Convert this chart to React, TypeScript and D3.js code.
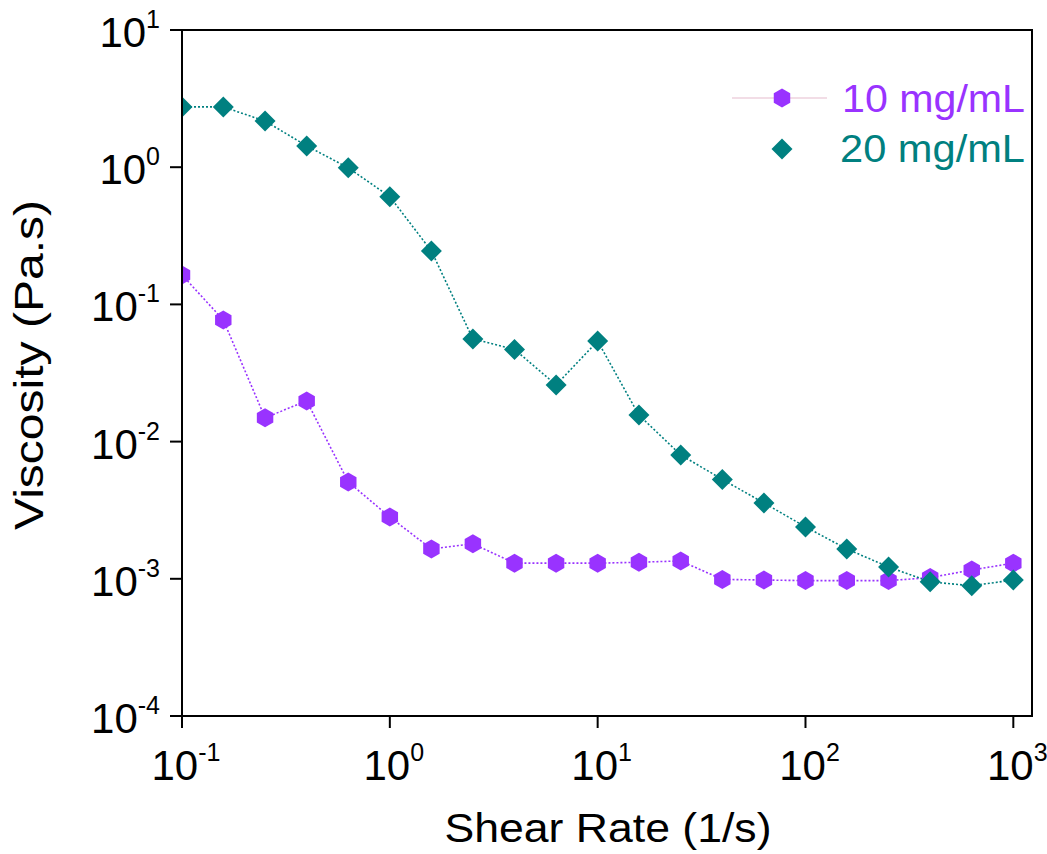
import * as d3 from 'd3';
import React from 'react';

// shear rate points (1/s), 5 per decade
const shearRate = [
  0.1, 0.158, 0.251, 0.398, 0.631, 1, 1.585, 2.51, 3.98, 6.31, 10, 15.8, 25.1, 39.8, 63.1, 100, 158, 251, 398, 631, 1000
];
const visc10 = [
  0.164, 0.077, 0.0149, 0.0198, 0.00508, 0.00282, 0.00165, 0.0018, 0.0013, 0.0013, 0.0013, 0.00132, 0.00135, 0.00099,
  0.00098, 0.00097, 0.00097, 0.00097, 0.00102, 0.00116, 0.0013
];
const visc20 = [
  2.75, 2.75, 2.17, 1.43, 0.99, 0.61, 0.245, 0.056, 0.047, 0.0259, 0.054, 0.0156, 0.008, 0.0053, 0.00357, 0.00239,
  0.00165, 0.00122, 0.00095, 0.00089, 0.00098
];
const xTicks = [-1, 0, 1, 2, 3];
const yTicks = [-4, -3, -2, -1, 0, 1];
const seriesLabels = ['10 mg/mL', '20 mg/mL'];

const PURPLE = '#9933ff';
const TEAL = '#008080';
const FONT = '"Liberation Sans", Arial, sans-serif';

export default function App() {
  const left = 182, right = 1032, top = 30, bottom = 716;
  const x = d3.scaleLog().domain([0.1, 1230]).range([left, right]);
  const y = d3.scaleLog().domain([1e-4, 10]).range([bottom, top]);

  const line = d3
    .line<number>()
    .x((_, i) => x(shearRate[i]))
    .y((d) => y(d));

  const hexagon = (r: number) =>
    d3.range(6).map((i) => {
      const a = (Math.PI / 3) * i - Math.PI / 2;
      return [r * Math.cos(a), r * Math.sin(a)].join(',');
    }).join(' ');
  const diamond = (r: number) => `0,${-r} ${r},0 0,${r} ${-r},0`;

  return (
    <svg
      width={1047}
      height={854}
      style={{ position: 'absolute', left: 0, top: 0, background: '#fff' }}
      fontFamily={FONT}
    >
      <defs>
        <clipPath id="plot">
          <rect x={left} y={top} width={right - left} height={bottom - top} />
        </clipPath>
      </defs>

      {/* y axis ticks & labels */}
      {yTicks.map((p) => (
        <g key={'y' + p}>
          <line x1={left - 12} x2={left} y1={y(Math.pow(10, p))} y2={y(Math.pow(10, p))} stroke="#000" strokeWidth={2} />
          <text x={160} y={y(Math.pow(10, p)) + 17} textAnchor="end" fontSize={42} fill="#000">
            10<tspan dy={-19} fontSize={25}>{p}</tspan>
          </text>
        </g>
      ))}

      {/* x axis ticks & labels */}
      {xTicks.map((p) => (
        <g key={'x' + p}>
          <line x1={x(Math.pow(10, p))} x2={x(Math.pow(10, p))} y1={bottom} y2={bottom + 12} stroke="#000" strokeWidth={2} />
          <text x={x(Math.pow(10, p)) + 4} y={780} textAnchor="middle" fontSize={42} fill="#000">
            10<tspan dy={-19} fontSize={25}>{p}</tspan>
          </text>
        </g>
      ))}

      {/* axis titles */}
      <text x={608} y={842} textAnchor="middle" fontSize={40} textLength={327} lengthAdjust="spacingAndGlyphs">
        Shear Rate (1/s)
      </text>
      <text
        transform="translate(43,365) rotate(-90)"
        textAnchor="middle"
        fontSize={41}
        textLength={330}
        lengthAdjust="spacingAndGlyphs"
      >
        Viscosity (Pa.s)
      </text>

      <g clipPath="url(#plot)">
        {/* series lines */}
        <path d={line(visc10) || ''} fill="none" stroke={PURPLE} strokeWidth={1.6} strokeDasharray="2,2" />
        <path d={line(visc20) || ''} fill="none" stroke={TEAL} strokeWidth={1.6} strokeDasharray="2,2" />

        {/* markers */}
        {visc10.map((v, i) => (
          <polygon key={'a' + i} points={hexagon(9.5)} transform={`translate(${x(shearRate[i])},${y(v)})`} fill={PURPLE} />
        ))}
        {visc20.map((v, i) => (
          <polygon key={'b' + i} points={diamond(10.5)} transform={`translate(${x(shearRate[i])},${y(v)})`} fill={TEAL} />
        ))}
      </g>

      {/* frame */}
      <rect x={left} y={top} width={right - left} height={bottom - top} fill="none" stroke="#000" strokeWidth={2} />

      {/* legend */}
      <line x1={732} x2={827} y1={98} y2={98} stroke="#f2dde6" strokeWidth={2} />
      <polygon points={hexagon(9.5)} transform="translate(782,98)" fill={PURPLE} />
      <text x={842} y={112} fontSize={39} fill={PURPLE} textLength={183} lengthAdjust="spacingAndGlyphs">
        {seriesLabels[0]}
      </text>
      <polygon points={diamond(10.5)} transform="translate(782,149)" fill={TEAL} />
      <text x={840} y={162} fontSize={39} fill={TEAL} textLength={185} lengthAdjust="spacingAndGlyphs">
        {seriesLabels[1]}
      </text>
    </svg>
  );
}
